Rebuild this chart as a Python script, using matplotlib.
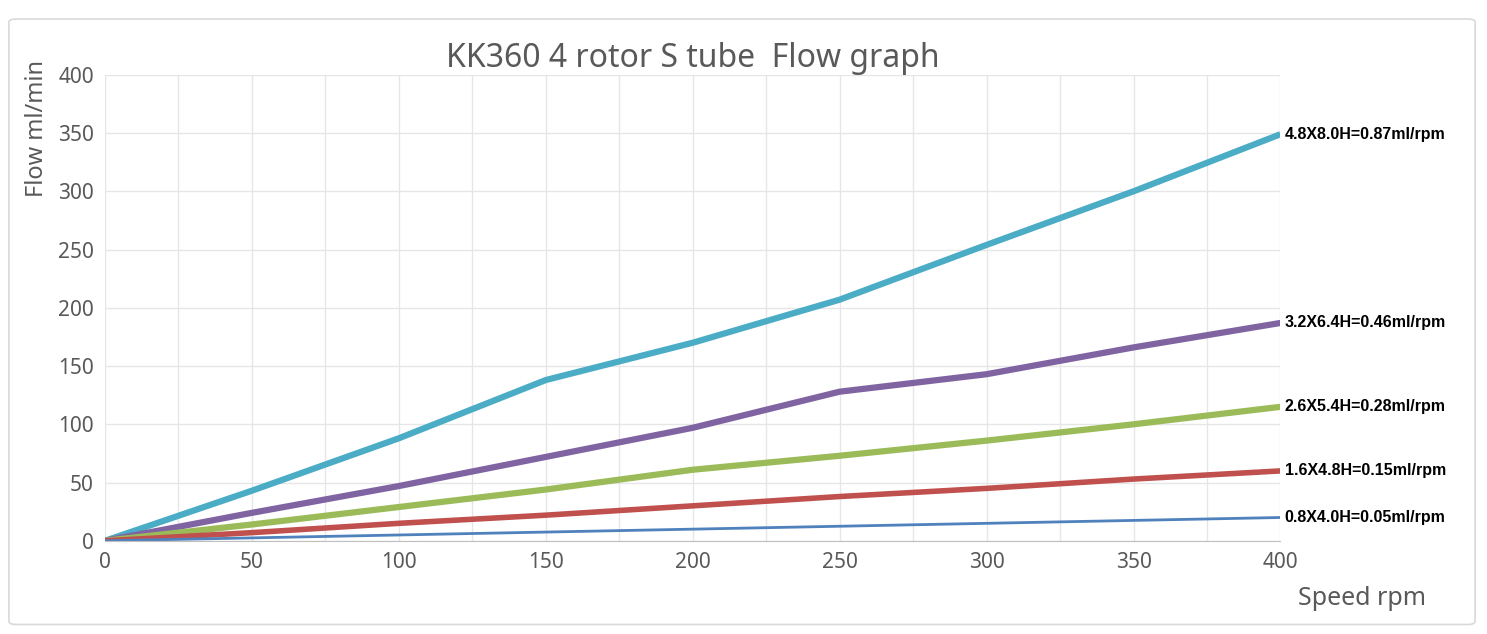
import matplotlib.pyplot as plt
from matplotlib.patches import FancyBboxPatch

speed = [0, 50, 100, 150, 200, 250, 300, 350, 400]
flow_48 = [0, 43, 88, 138, 170, 207, 254, 300, 349]
flow_32 = [0, 24, 47, 72, 97, 128, 143, 166, 187]
flow_26 = [0, 14, 29, 44, 61, 73, 86, 100, 115]
flow_16 = [0, 7, 15, 22, 30, 38, 45, 53, 60]
flow_08 = [0, 2.5, 5, 7.5, 10, 12.5, 15, 17.5, 20]

labels = ['4.8X8.0H=0.87ml/rpm', '3.2X6.4H=0.46ml/rpm', '2.6X5.4H=0.28ml/rpm',
          '1.6X4.8H=0.15ml/rpm', '0.8X4.0H=0.05ml/rpm']
series = [flow_48, flow_32, flow_26, flow_16, flow_08]
colors = ['#4bacc6', '#8064a2', '#9bbb59', '#c0504d', '#4f81bd']
widths = [4.5, 4.5, 4.5, 4, 2]

plt.rcParams['font.family'] = ['Noto Sans', 'DejaVu Sans']
fig = plt.figure(figsize=(14.87, 6.34), dpi=100)
fig.patches.append(FancyBboxPatch((0.006, 0.015), 0.986, 0.955, boxstyle='round,pad=0,rounding_size=0.005',
                                  transform=fig.transFigure, fill=False, edgecolor='#d9d9d9', lw=1.2))
ax = fig.add_axes([0.0706, 0.147, 0.7905, 0.735])

for ys, c, w, lab in zip(series, colors, widths, labels):
    ax.plot(speed, ys, color=c, lw=w, solid_capstyle='butt')
    ax.text(401.5, ys[-1], lab, fontsize=11.5, fontweight='bold', va='center', ha='left',
            family=['Liberation Sans', 'DejaVu Sans'])

ax.set_xlim(0, 400)
ax.set_ylim(0, 400)
ax.set_xticks(range(0, 401, 50))
ax.set_xticks(range(0, 401, 25), minor=True)
ax.set_yticks(range(0, 401, 50))
ax.grid(True, which='both', axis='x', color='#e6e6e6', lw=1)
ax.grid(True, which='major', axis='y', color='#e6e6e6', lw=1)
ax.set_axisbelow(True)
for s in ['top', 'right', 'left']:
    ax.spines[s].set_visible(False)
ax.spines['bottom'].set_color('#bfbfbf')
ax.tick_params(which='both', length=0, labelsize=15, labelcolor='#595959', pad=8)

ax.set_title('KK360 4 rotor S tube  Flow graph', fontsize=23, color='#595959', pad=2)
fig.text(0.017, 0.905, 'Flow ml/min', rotation=90, fontsize=17, color='#595959', va='top', ha='left')
fig.text(0.873, 0.045, 'Speed rpm', fontsize=18, color='#595959', ha='left')

fig.savefig('out.png', dpi=100)
